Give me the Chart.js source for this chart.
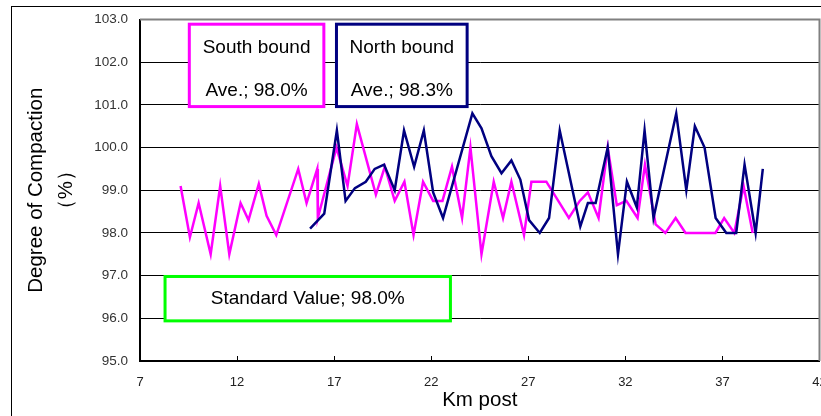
<!DOCTYPE html>
<html>
<head>
<meta charset="utf-8">
<title>Degree of Compaction</title>
<script src="https://cdn.jsdelivr.net/npm/chart.js@4.4.1/dist/chart.umd.min.js"></script>
<style>
  html, body { margin: 0; padding: 0; background: #fff; }
  canvas { display: block; }
</style>
</head>
<body>
<canvas id="compaction-chart" width="821" height="416"></canvas>
<script>
// South bound readings: km post / degree of compaction (%)
const southKm = [
  9.09, 9.57, 10.02, 10.64, 11.13, 11.6, 12.18, 12.59, 13.12, 13.52, 14.02,
  15.15, 15.58, 16.13, 16.16, 17.12, 17.69, 18.17, 19.15, 19.61, 20.12, 20.62,
  21.09, 21.58, 22.1, 22.58, 23.07, 23.59, 24.02, 24.59, 25.22, 25.7, 26.13,
  26.78, 27.16, 27.93, 29.09, 29.65, 30.07, 30.62, 31.09, 31.56, 32.05, 32.63,
  33.01, 33.56, 34.06, 34.59, 35.1, 36.64, 37.09, 37.61, 38.09, 38.56,
];
const southValues = [
  99.1, 97.9, 98.7, 97.5, 99.1, 97.5, 98.7, 98.3, 99.15, 98.4, 97.95,
  99.5, 98.7, 99.5, 98.35, 100.0, 99.1, 100.55, 98.9, 99.55, 98.75, 99.2,
  97.95, 99.2, 98.75, 98.75, 99.55, 98.35, 100.0, 97.5, 99.2, 98.35, 99.2,
  97.95, 99.2, 99.2, 98.35, 98.75, 98.95, 98.35, 100.0, 98.65, 98.75, 98.35,
  99.6, 98.2, 98.0, 98.35, 98.0, 98.0, 98.35, 98.0, 99.1, 98.0,
];

// North bound readings
const northKm = [
  15.76, 16.49, 17.14, 17.59, 18.07, 18.63, 19.09, 19.57, 20.12, 20.6, 21.12,
  21.62, 22.1, 22.61, 24.12, 24.59, 25.1, 25.62, 26.13, 26.59, 27.04, 27.59,
  28.07, 28.62, 29.68, 30.07, 30.47, 31.09, 31.62, 32.08, 32.59, 32.99, 33.45,
  34.62, 35.14, 35.58, 36.08, 36.65, 37.2, 37.71, 38.14, 38.71, 39.08,
];
const northValues = [
  98.1, 98.45, 100.4, 98.75, 99.05, 99.2, 99.5, 99.6, 99.0, 100.4, 99.55,
  100.4, 98.95, 98.35, 100.8, 100.45, 99.8, 99.4, 99.7, 99.25, 98.3, 98.0,
  98.35, 100.4, 98.15, 98.7, 98.7, 100.0, 97.5, 99.2, 98.6, 100.4, 98.35,
  100.8, 99.0, 100.5, 100.0, 98.35, 98.0, 98.0, 99.6, 98.0, 99.5,
];

const kmTicks = [7, 12, 17, 22, 27, 32, 37, 42];
const southAverage = 98.0;
const northAverage = 98.3;
const standardValue = 98.0;

const toPoints = (xs, ys) => xs.map((x, i) => ({ x: x, y: ys[i] }));

const FONT = '"Liberation Sans", Arial, sans-serif';

// outer frame, plot border and inward x tick marks
const framePlugin = {
  id: 'frame',
  beforeDraw(chart) {
    const { ctx } = chart;
    ctx.save();
    ctx.strokeStyle = '#000';
    ctx.lineWidth = 1;
    ctx.strokeRect(11.5, 6.5, 1000, 1000);
    ctx.restore();
  },
  afterDraw(chart) {
    const { ctx, chartArea } = chart;
    const x = chart.scales.x;
    ctx.save();
    ctx.strokeStyle = '#808080';
    ctx.lineWidth = 2;
    ctx.beginPath();
    ctx.moveTo(chartArea.left, chartArea.top);
    ctx.lineTo(chartArea.right, chartArea.top);
    ctx.lineTo(chartArea.right, chartArea.bottom);
    ctx.stroke();

    ctx.strokeStyle = '#000';
    ctx.lineWidth = 1;
    kmTicks.slice(1, -1).forEach((km) => {
      const px = Math.round(x.getPixelForValue(km)) + 0.5;
      ctx.beginPath();
      ctx.moveTo(px, chartArea.bottom);
      ctx.lineTo(px, chartArea.bottom - 5);
      ctx.stroke();
    });
    ctx.restore();
  },
};

// labelled boxes, placed in axis units
const boxPlugin = {
  id: 'boxes',
  afterDraw(chart) {
    const { ctx } = chart;
    const x = chart.scales.x;
    const y = chart.scales.y;
    const boxes = [
      { x0: 9.54, x1: 16.47, y0: 102.89, y1: 100.96, color: '#ff00ff',
        lines: ['South bound', 'Ave.; ' + southAverage.toFixed(1) + '%'] },
      { x0: 17.12, x1: 23.85, y0: 102.89, y1: 100.96, color: '#000080',
        lines: ['North bound', 'Ave.; ' + northAverage.toFixed(1) + '%'] },
      { x0: 8.29, x1: 22.99, y0: 96.98, y1: 95.94, color: '#00ff00',
        lines: ['Standard Value; ' + standardValue.toFixed(1) + '%'] },
    ];

    ctx.save();
    boxes.forEach((box) => {
      const left = x.getPixelForValue(box.x0);
      const right = x.getPixelForValue(box.x1);
      const top = y.getPixelForValue(box.y0);
      const bottom = y.getPixelForValue(box.y1);

      ctx.fillStyle = '#fff';
      ctx.fillRect(left, top, right - left, bottom - top);
      ctx.strokeStyle = box.color;
      ctx.lineWidth = 3;
      ctx.strokeRect(left, top, right - left, bottom - top);

      ctx.fillStyle = '#000';
      ctx.font = '19px ' + FONT;
      ctx.textAlign = 'center';
      ctx.textBaseline = 'middle';
      const cx = (left + right) / 2;
      if (box.lines.length === 1) {
        ctx.fillText(box.lines[0], cx, (top + bottom) / 2);
      } else {
        ctx.fillText(box.lines[0], cx, top + 24);
        ctx.fillText(box.lines[1], cx, top + 67);
      }
    });
    ctx.restore();
  },
};

const context = document.getElementById('compaction-chart');

new Chart(context, {
  type: 'line',
  data: {
    datasets: [
      {
        label: 'North bound',
        data: toPoints(northKm, northValues),
        borderColor: '#000080',
        borderWidth: 2.5,
        pointRadius: 0,
        tension: 0,
        fill: false,
      },
      {
        label: 'South bound',
        data: toPoints(southKm, southValues),
        borderColor: '#ff00ff',
        borderWidth: 2.5,
        pointRadius: 0,
        tension: 0,
        fill: false,
      },
    ],
  },
  options: {
    responsive: false,
    animation: false,
    layout: {
      padding: { left: 0, top: 19.5, right: 1.5, bottom: 0 },
    },
    plugins: {
      legend: { display: false },
      tooltip: { enabled: false },
    },
    scales: {
      x: {
        type: 'linear',
        min: 7,
        max: 42,
        afterFit: (scale) => {
          scale.height = 55;
          scale.paddingLeft = 0;
          scale.paddingRight = 0;
        },
        afterBuildTicks: (scale) => {
          scale.ticks = kmTicks.map((v) => ({ value: v }));
        },
        border: { color: '#000', width: 2 },
        grid: { drawOnChartArea: false, drawTicks: false },
        ticks: {
          color: '#222',
          padding: 14,
          maxRotation: 0,
          font: { family: FONT, size: 13 },
        },
        title: {
          display: true,
          text: 'Km post',
          color: '#000',
          font: { family: FONT, size: 20.5, lineHeight: 1.2 },
          padding: { top: 0, bottom: 3 },
        },
      },
      y: {
        min: 95,
        max: 103,
        afterFit: (scale) => {
          scale.width = 140;
          scale.paddingTop = 0;
          scale.paddingBottom = 0;
        },
        border: { color: '#000', width: 2 },
        grid: { color: '#000', lineWidth: 1, drawTicks: false },
        ticks: {
          stepSize: 1,
          color: '#333',
          padding: 12,
          font: { family: FONT, size: 13.5 },
          callback: (value) => value.toFixed(1),
        },
        title: {
          display: true,
          text: ['Degree of Compaction', '（%）'],
          color: '#000',
          font: { family: FONT, size: 20.5, lineHeight: 1.46 },
          padding: { top: 21, bottom: 0 },
        },
      },
    },
  },
  plugins: [framePlugin, boxPlugin],
});
</script>
</body>
</html>
